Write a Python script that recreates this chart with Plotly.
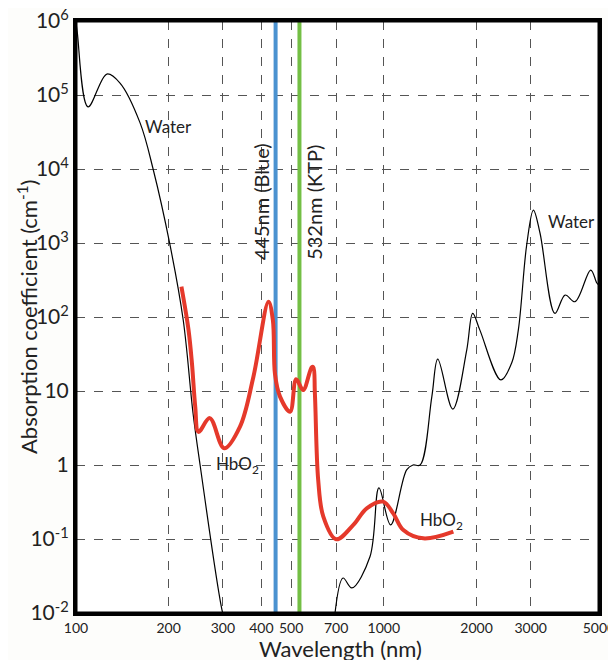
import plotly.graph_objects as go

# Water absorption (nm, cm^-1)
water_uv_x = [100, 101, 109.4, 126, 139, 161.5, 178, 202, 223, 240, 253, 298, 310]
water_uv_y = [9.5e5, 6.9e5, 6.9e4, 1.92e5, 1.45e5, 4.2e4, 1.0e4, 940, 91, 5.0, 1.0, 0.011, 0.006]

water_ir_x = [690, 737, 787, 902, 964, 1052, 1186, 1244, 1312, 1432, 1497, 1675, 1859, 1944,
              2050, 2400, 2602, 2735, 2911, 3061, 3216, 3596, 3880, 4180, 4700, 4920, 5000]
water_ir_y = [0.008, 0.0297, 0.0218, 0.058, 0.49, 0.155, 0.86, 1.0, 1.0, 8.4, 27, 5.7, 35.8, 112,
              67, 14.1, 23.9, 67, 940, 2790, 1365, 112, 198, 161, 431, 288, 270]

# Oxyhemoglobin absorption
hbo2_x = [220, 232, 238, 244, 250, 272, 303, 341, 377, 422, 436, 443, 460, 496, 519, 547, 583,
          590, 597, 612, 636, 700, 796, 880, 995, 1074, 1157, 1343, 1682]
hbo2_y = [257, 67, 23.9, 6.1, 2.8, 4.3, 1.68, 3.3, 15.6, 161, 91, 17, 8.4, 5.25, 14.4, 10.3, 20.9,
          21, 9.4, 0.63, 0.2, 0.099, 0.155, 0.26, 0.32, 0.22, 0.132, 0.102, 0.126]

laser_blue = 445
laser_ktp = 532
y_range = [0.01, 1e6]

x_tickvals = [100, 200, 300, 400, 500, 700, 1000, 2000, 3000, 4999]
x_ticktext = ["100", "200", "300", "400", "500", "700", "1000", "2000", "3000", "5000"]
y_tickvals = [0.01, 0.1, 1, 10, 100, 1e3, 1e4, 1e5, 0.9999e6]
y_ticktext = ["10<sup>-2</sup>", "10<sup>-1</sup>", "1", "10", "10<sup>2</sup>", "10<sup>3</sup>",
              "10<sup>4</sup>", "10<sup>5</sup>", "10<sup>6</sup>"]

FONT = "Lato"
fig = go.Figure()

fig.add_trace(go.Scatter(x=[laser_blue, laser_blue], y=y_range, mode="lines",
                         line=dict(color="#4b92d0", width=4), showlegend=False))
fig.add_trace(go.Scatter(x=[laser_ktp, laser_ktp], y=y_range, mode="lines",
                         line=dict(color="#74bf45", width=4), showlegend=False))
fig.add_trace(go.Scatter(x=water_uv_x, y=water_uv_y, mode="lines", line_shape="spline",
                         line=dict(color="black", width=1.2), showlegend=False))
fig.add_trace(go.Scatter(x=water_ir_x, y=water_ir_y, mode="lines", line_shape="spline",
                         line=dict(color="black", width=1.2), showlegend=False))
fig.add_trace(go.Scatter(x=hbo2_x, y=hbo2_y, mode="lines", line_shape="spline",
                         line=dict(color="#e5392b", width=4), showlegend=False))

grid = dict(showgrid=True, gridcolor="#555555", griddash="dash", gridwidth=1)

fig.update_xaxes(type="log", range=[2, 3.69897], tickvals=x_tickvals, ticktext=x_ticktext,
                 tickfont=dict(size=14, color="#222"), ticks="", showline=True, linecolor="black",
                 linewidth=3, mirror=True, zeroline=False, automargin=False,
                 ticklabeloverflow="allow", **grid)
fig.update_yaxes(type="log", range=[-2, 6], tickvals=y_tickvals, ticktext=y_ticktext,
                 tickfont=dict(size=21, color="#222"), ticks="", showline=True, linecolor="black",
                 linewidth=3, mirror=True, zeroline=False, automargin=False,
                 ticklabeloverflow="allow", **grid)

# plot frame
fig.add_shape(type="rect", xref="paper", yref="paper", x0=0, x1=1, y0=0, y1=1,
              line=dict(color="black", width=3), layer="above")

ann = [
    dict(x=2.299, y=4.568, text="Water", size=17, angle=0),
    dict(x=3.608, y=3.297, text="Water", size=17, angle=0),
    dict(x=2.523, y=0.0, text="HbO<sub>2</sub>", size=17, angle=0),
    dict(x=3.186, y=-0.757, text="HbO<sub>2</sub>", size=17, angle=0),
    dict(x=2.601, y=3.55, text="445nm (Blue)", size=20, angle=-90),
    dict(x=2.775, y=3.55, text="532nm (KTP)", size=20, angle=-90),
]
for a in ann:
    fig.add_annotation(x=a["x"], y=a["y"], xref="x", yref="y", text=a["text"], showarrow=False,
                       textangle=a["angle"], font=dict(family=FONT, size=a["size"], color="#222"))

# axis titles
fig.add_annotation(x=0.505, y=0, xref="paper", yref="paper", yshift=-35, yanchor="middle",
                   text="Wavelength (nm)", showarrow=False,
                   font=dict(family=FONT, size=22, color="#222"))
fig.add_annotation(x=0, y=0.5, xref="paper", yref="paper", xshift=-49, xanchor="center",
                   text="Absorption coefficient (cm<sup>-1</sup>)", showarrow=False, textangle=-90,
                   font=dict(family=FONT, size=22, color="#222"))

# page body has an 8px margin, so the figure is sized/offset to compensate
fig.update_layout(width=608, height=652, margin=dict(l=68, r=17, t=13, b=47),
                  paper_bgcolor="#fdfdfb", plot_bgcolor="white",
                  font=dict(family=FONT, color="#222"), showlegend=False)

fig.write_html("out.html")
